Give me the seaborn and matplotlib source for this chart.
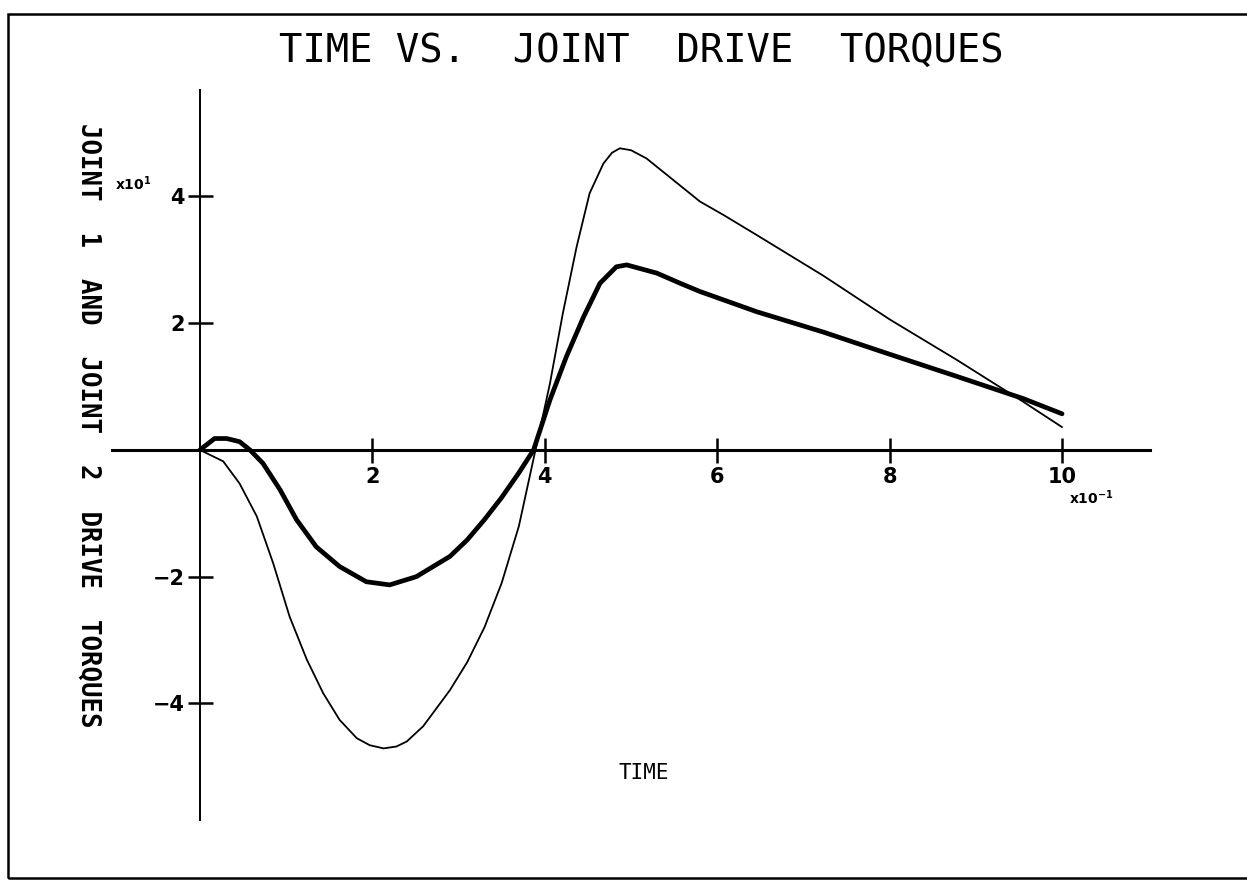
import matplotlib
matplotlib.use("Agg")
import matplotlib.pyplot as plt
from matplotlib.patches import Rectangle
import seaborn as sns
import pandas as pd

# Joint 1 drive torque (thin trace), x10^1
t_joint1 = [0, 0.027, 0.046, 0.066, 0.085, 0.104, 0.124, 0.143, 0.162, 0.182,
            0.197, 0.213, 0.228, 0.24, 0.259, 0.29, 0.31, 0.33, 0.35, 0.37,
            0.39, 0.406, 0.421, 0.437, 0.452, 0.468, 0.478, 0.487, 0.50,
            0.518, 0.549, 0.58, 0.607, 0.646, 0.723, 0.8, 0.878, 0.955, 1.0]
torque_joint1 = [0, -1.8, -5.3, -10.5, -17.9, -26.3, -33.1, -38.4, -42.6, -45.5,
                 -46.6, -47.1, -46.8, -46.0, -43.6, -37.9, -33.5, -28.0, -21.0, -12.0,
                 0.5, 10.5, 21.6, 32.1, 40.5, 45.2, 46.9, 47.6, 47.3,
                 46.0, 42.6, 39.2, 37.1, 33.9, 27.5, 20.6, 14.2, 7.6, 3.6]

# Joint 2 drive torque (heavy trace), x10^1
t_joint2 = [0, 0.017, 0.031, 0.046, 0.058, 0.073, 0.093, 0.112, 0.135, 0.162,
            0.193, 0.22, 0.251, 0.29, 0.31, 0.33, 0.35, 0.37, 0.387, 0.406,
            0.425, 0.445, 0.464, 0.483, 0.495, 0.53, 0.557, 0.58, 0.646,
            0.723, 0.8, 0.878, 0.955, 1.0]
torque_joint2 = [0, 1.8, 1.8, 1.3, 0, -2.1, -6.3, -11.0, -15.3, -18.4,
                 -20.8, -21.3, -20.0, -16.8, -14.2, -11.0, -7.5, -3.6, 0, 7.9,
                 14.7, 21.0, 26.3, 28.9, 29.2, 27.9, 26.3, 25.0, 21.8,
                 18.6, 15.1, 11.6, 8.1, 5.7]

x_ticks = [0.2, 0.4, 0.6, 0.8, 1.0]
x_tick_labels = ["2", "4", "6", "8", "10"]
y_ticks = [-40, -20, 20, 40]
y_tick_labels = ["\u22124", "\u22122", "2", "4"]

sns.set_style("white")
plt.rcParams["font.family"] = ["DejaVu Sans"]
plt.rcParams["mathtext.default"] = "bf"
plt.rcParams["text.color"] = "black"
plt.rcParams["xtick.color"] = "black"
plt.rcParams["ytick.color"] = "black"
plt.rcParams["xtick.labelcolor"] = "black"
plt.rcParams["ytick.labelcolor"] = "black"

fig = plt.figure(figsize=(12.47, 8.81), dpi=100)
ax = fig.add_axes([112 / 1247, 1 - 820 / 881, (1150 - 112) / 1247, (820 - 90) / 881])

df1 = pd.DataFrame({"t": t_joint1, "tq": torque_joint1})
df2 = pd.DataFrame({"t": t_joint2, "tq": torque_joint2})
sns.lineplot(data=df1, x="t", y="tq", ax=ax, color="black", linewidth=1.3,
             sort=False, estimator=None, solid_joinstyle="round")
sns.lineplot(data=df2, x="t", y="tq", ax=ax, color="black", linewidth=3.4,
             sort=False, estimator=None, solid_joinstyle="round")

ax.set_xlim(-0.102, 1.102)
ax.set_ylim(-58.4, 56.8)

# Axes cross at the origin
for side in ("top", "right"):
    ax.spines[side].set_visible(False)
ax.spines["left"].set_position(("data", 0))
ax.spines["bottom"].set_position(("data", 0))
ax.spines["left"].set_linewidth(1.4)
ax.spines["bottom"].set_linewidth(2.2)
ax.spines["left"].set_color("black")
ax.spines["bottom"].set_color("black")

ax.set_xticks(x_ticks)
ax.set_xticklabels(x_tick_labels)
ax.set_yticks(y_ticks)
ax.set_yticklabels(y_tick_labels)
ax.tick_params(axis="both", bottom=True, left=True, direction="inout",
               length=18, width=1.8, color="black", labelcolor="black",
               labelsize=15)
ax.tick_params(axis="x", pad=3)
ax.tick_params(axis="y", pad=2)
for lab in ax.get_xticklabels() + ax.get_yticklabels():
    lab.set_fontweight("bold")
ax.set_xlabel("")
ax.set_ylabel("")
ax.grid(False)

# Scale multipliers
ax.text(-0.098, 40.5, "x10$^{1}$", fontsize=10, fontweight="bold",
        ha="left", va="bottom")
ax.text(1.008, -6.0, "x10$^{-1}$", fontsize=10, fontweight="bold",
        ha="left", va="top")

fig.text(0.514, 0.942, "TIME VS.  JOINT  DRIVE  TORQUES",
         family="DejaVu Sans Mono", fontsize=28, ha="center", va="center")
fig.text(0.516, 1 - 773 / 881, "TIME", family="DejaVu Sans Mono",
         fontsize=15, ha="center", va="center")
fig.text(88 / 1247, 1 - 425 / 881, "JOINT  1  AND  JOINT  2  DRIVE  TORQUES",
         family="DejaVu Sans Mono", fontweight="bold", fontsize=18.5,
         rotation=270, ha="center", va="center")

# Page frame
fig.patches.append(Rectangle((8 / 1247, 3 / 881), 1.2, 1 - 17 / 881,
                             transform=fig.transFigure, fill=False,
                             edgecolor="black", linewidth=1.8))

fig.savefig("out.png", dpi=100, facecolor="white")
